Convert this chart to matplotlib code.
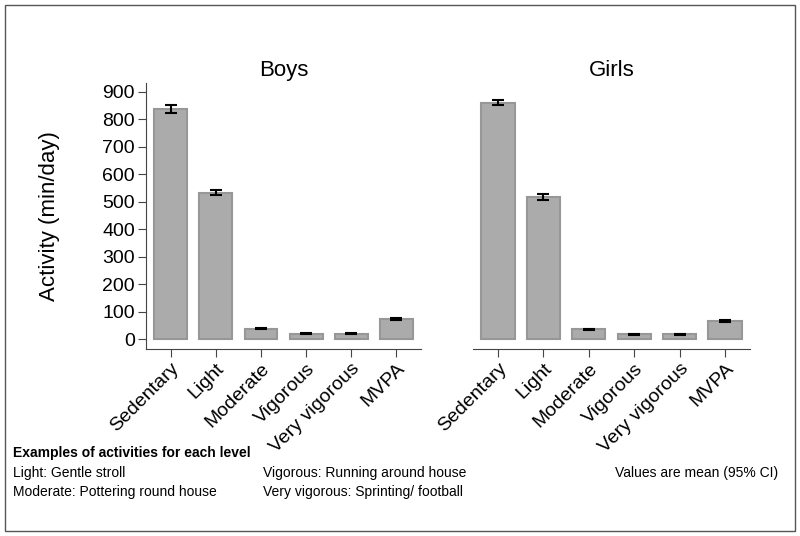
import matplotlib.pyplot as plt
import numpy as np
from matplotlib.patches import Rectangle

plt.rcParams['font.family'] = ['Liberation Sans', 'DejaVu Sans']

levels = ['Sedentary', 'Light', 'Moderate', 'Vigorous', 'Very vigorous', 'MVPA']

# means and 95% CI (min/day)
boys_mean = [837, 533, 38, 19, 20, 73]
boys_lo = [823, 523, 35, 17, 18, 68]
boys_hi = [851, 543, 41, 21, 22, 78]

girls_mean = [860, 516, 35, 17, 18, 67]
girls_lo = [850, 506, 32, 15, 16, 63]
girls_hi = [870, 526, 38, 19, 20, 71]

fig = plt.figure(figsize=(8, 5.36), dpi=100)
fig.patches.append(Rectangle((0.006, 0.01), 0.988, 0.98, transform=fig.transFigure,
                             fill=False, edgecolor='#555555', lw=1))

ax1 = fig.add_axes([0.1825, 0.3489, 0.3438, 0.4955])
ax2 = fig.add_axes([0.59125, 0.3489, 0.34625, 0.4955])

x = np.arange(len(levels))
for ax, m, lo, hi, title in [(ax1, boys_mean, boys_lo, boys_hi, 'Boys'),
                             (ax2, girls_mean, girls_lo, girls_hi, 'Girls')]:
    m = np.array(m); lo = np.array(lo); hi = np.array(hi)
    ax.bar(x, m, width=0.73, color='#ababab', edgecolor='#979797', linewidth=1.5)
    ax.errorbar(x, m, yerr=[m - lo, hi - m], fmt='none', ecolor='black',
                elinewidth=1.5, capsize=4, capthick=1.5)
    ax.set_xlim(-0.55, 5.55)
    ax.set_ylim(-36, 930)
    ax.set_xticks(x)
    ax.set_xticklabels(levels, rotation=45, ha='right', rotation_mode='anchor', fontsize=14)
    ax.set_title(title, fontsize=16, pad=5)
    ax.spines['top'].set_visible(False)
    ax.spines['right'].set_visible(False)
    ax.spines['bottom'].set_color('#444444')
    ax.spines['left'].set_color('#444444')
    ax.tick_params(axis='x', length=6, color='#444444', pad=2)

ax1.set_yticks(range(0, 901, 100))
ax1.tick_params(axis='y', labelsize=14, length=6, color='#444444', pad=2)
ax1.set_ylabel('Activity (min/day)', fontsize=16, labelpad=30)

ax2.spines['left'].set_visible(False)
ax2.set_yticks([])

fs = 10
fig.text(0.016, 0.147, 'Examples of activities for each level', fontsize=fs, fontweight='bold')
fig.text(0.016, 0.110, 'Light: Gentle stroll', fontsize=fs)
fig.text(0.016, 0.074, 'Moderate: Pottering round house', fontsize=fs)
fig.text(0.329, 0.110, 'Vigorous: Running around house', fontsize=fs)
fig.text(0.329, 0.074, 'Very vigorous: Sprinting/ football', fontsize=fs)
fig.text(0.973, 0.110, 'Values are mean (95% CI)', fontsize=fs, ha='right')

fig.savefig('out.png', dpi=100)
